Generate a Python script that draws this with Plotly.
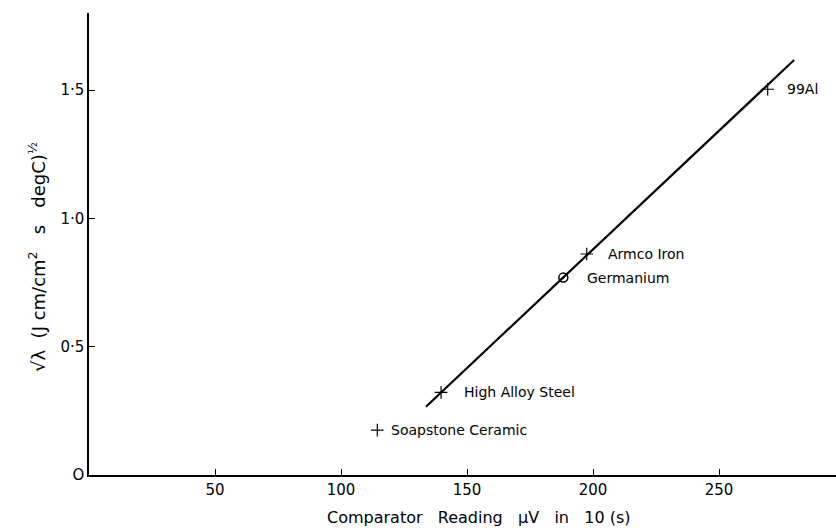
import plotly.graph_objects as go

# Data
cross_names = ["Soapstone Ceramic", "High Alloy Steel", "Armco Iron", "99Al"]
cross_x = [114.4, 139.7, 197.5, 269.3]
cross_y = [0.175, 0.322, 0.861, 1.503]
cross_label_shift = [12, 21, 19, 17]

circle_names = ["Germanium"]
circle_x = [188.2]
circle_y = [0.769]
circle_label_shift = [22]

fit_x = [133.7, 279.8]
fit_y = [0.266, 1.617]

x_tickvals = [50, 100, 150, 200, 250]
x_ticktext = ["50", "100", "150", "200", "250"]
y_tickvals = [0, 0.5, 1.0, 1.5]
y_ticktext = ["O", "0·5", "1·0", "1·5"]

x_title = "Comparator   Reading   µV   in   10 (s)"
y_title = "√λ  (J cm/cm<sup>2</sup>   s   degC)<sup>½</sup>"

FONT = "DejaVu Sans"

fig = go.Figure()
fig.add_trace(go.Scatter(x=fit_x, y=fit_y, mode="lines",
                         line=dict(color="black", width=2.2), showlegend=False))
fig.add_trace(go.Scatter(x=cross_x, y=cross_y, mode="markers",
                         marker=dict(symbol="cross-thin", size=9, color="black",
                                     line=dict(color="black", width=1.2)),
                         showlegend=False))
fig.add_trace(go.Scatter(x=circle_x, y=circle_y, mode="markers",
                         marker=dict(symbol="circle-open-dot", size=9, color="black",
                                     line=dict(color="black", width=1.5)),
                         showlegend=False))

for n, x, y, s in zip(cross_names + circle_names, cross_x + circle_x,
                      cross_y + circle_y, cross_label_shift + circle_label_shift):
    fig.add_annotation(x=x, y=y, text=n, showarrow=False, xanchor="left",
                       yanchor="middle", xshift=s,
                       font=dict(family=FONT, size=14, color="black"))

# axis titles as paper-positioned annotations
fig.add_annotation(xref="paper", yref="paper", x=0.522, y=-0.091, text=x_title,
                   showarrow=False, xanchor="center", yanchor="middle",
                   font=dict(family=FONT, size=16, color="black"))
fig.add_annotation(xref="paper", yref="paper", x=-0.0696, y=0.472, text=y_title,
                   showarrow=False, xanchor="center", yanchor="middle", textangle=-90,
                   font=dict(family=FONT, size=18, color="black"))

fig.update_layout(
    width=836, height=528,
    margin=dict(l=89, r=0, t=13, b=53, autoexpand=False),
    plot_bgcolor="white", paper_bgcolor="white",
    font=dict(family=FONT, size=14, color="black"),
    xaxis=dict(range=[0, 296.4], tickvals=x_tickvals, ticktext=x_ticktext,
               ticks="inside", ticklen=6, tickcolor="black", showgrid=False,
               zeroline=False, showline=True, linecolor="black", linewidth=1.5,
               automargin=False, tickfont=dict(family=FONT, size=15)),
    yaxis=dict(range=[0, 1.8], tickvals=y_tickvals, ticktext=y_ticktext,
               ticks="inside", ticklen=6, tickcolor="black", showgrid=False,
               zeroline=False, showline=True, linecolor="black", linewidth=1.5,
               automargin=False, tickfont=dict(family=FONT, size=15)),
)

fig.write_html("out.html", config={"displayModeBar": False},
               post_script="document.body.style.margin='0';document.body.style.overflow='hidden';")
